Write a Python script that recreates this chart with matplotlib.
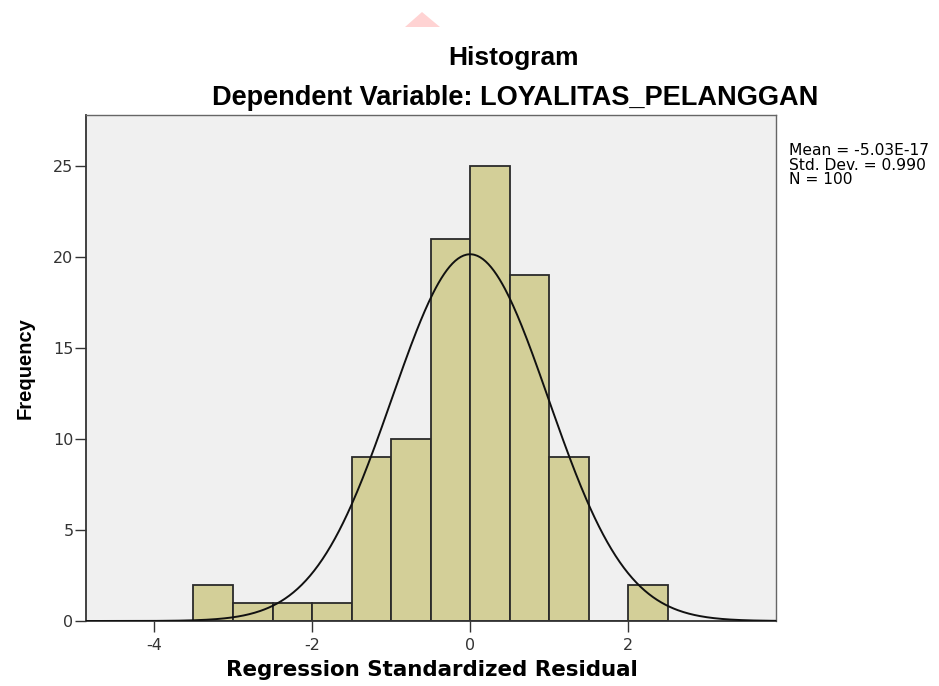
import numpy as np
import matplotlib
matplotlib.use("Agg")
import matplotlib.pyplot as plt
from matplotlib.patches import Polygon

bin_edges = [-3.5, -3.0, -2.5, -2.0, -1.5, -1.0, -0.5, 0.0, 0.5, 1.0, 1.5, 2.0, 2.5]
counts = [2, 1, 1, 1, 9, 10, 21, 25, 19, 9, 0, 2]
mean_val = -5.03e-17
std_val = 0.990
n_val = 100
x_ticks = [-4, -2, 0, 2]
y_ticks = [0, 5, 10, 15, 20, 25]

plt.rcParams['font.family'] = ['Liberation Sans', 'DejaVu Sans']
plt.rcParams['axes.unicode_minus'] = False

fig = plt.figure(figsize=(9.39, 6.86), dpi=100)
ax = fig.add_axes([86/939, 1-621/686, 690/939, 506/686])
ax.set_facecolor('#F0F0F0')

edges = np.array(bin_edges)
widths = np.diff(edges)
ax.bar(edges[:-1], counts, width=widths, align='edge', color='#D3CF98',
       edgecolor='#2a2a2a', linewidth=1.3, zorder=2)

xlim = (-4.86, 3.87)
xs = np.linspace(xlim[0], xlim[1], 500)
bw = widths[0]
ys = n_val * bw * np.exp(-0.5 * ((xs - mean_val) / std_val) ** 2) / (std_val * np.sqrt(2 * np.pi))
ax.plot(xs, ys, color='#111111', linewidth=1.4, zorder=3)

ax.set_xlim(*xlim)
ax.set_ylim(0, 27.8)
ax.set_xticks(x_ticks)
ax.set_yticks(y_ticks)
for lbl in ax.get_xticklabels() + ax.get_yticklabels():
    lbl.set_fontfamily('DejaVu Sans')
ax.tick_params(axis='both', direction='out', length=8, width=1, color='#333333',
               labelsize=11.5, labelcolor='#333333', pad=1)
ax.tick_params(axis='x', length=8, pad=4)
for s in ['left', 'bottom']:
    ax.spines[s].set_color('#333333')
    ax.spines[s].set_linewidth(1.3)
for s in ['top', 'right']:
    ax.spines[s].set_color('#666666')
    ax.spines[s].set_linewidth(1.0)

ax.set_xlabel('Regression Standardized Residual', fontsize=15.4, fontweight='bold',
              family='DejaVu Sans', va='center')
ax.xaxis.set_label_coords(0.501, (621-670)/506)
ax.set_ylabel('Frequency', fontsize=14.5, fontweight='bold', va='center')
ax.yaxis.set_label_coords((25-86)/690, 0.5)

fig.text(513/939, 1-58/686, 'Histogram', ha='center', va='center', fontsize=19, fontweight='bold')
fig.text(515/939, 1-98/686, 'Dependent Variable: LOYALITAS_PELANGGAN', ha='center', va='center',
         fontsize=19.5, fontweight='bold')
fig.text(789/939, 1-165/686,
         'Mean = -5.03E-17\nStd. Dev. = 0.990\nN = 100',
         ha='left', va='center', fontsize=11.2, linespacing=0.92, family='DejaVu Sans')

tri = Polygon([[405/939, 1-27/686], [440/939, 1-27/686], [422/939, 1-12/686]],
              closed=True, transform=fig.transFigure, facecolor='#FFD3D3', edgecolor='none')
fig.patches.append(tri)

fig.savefig('out.png', dpi=100, facecolor='white')
